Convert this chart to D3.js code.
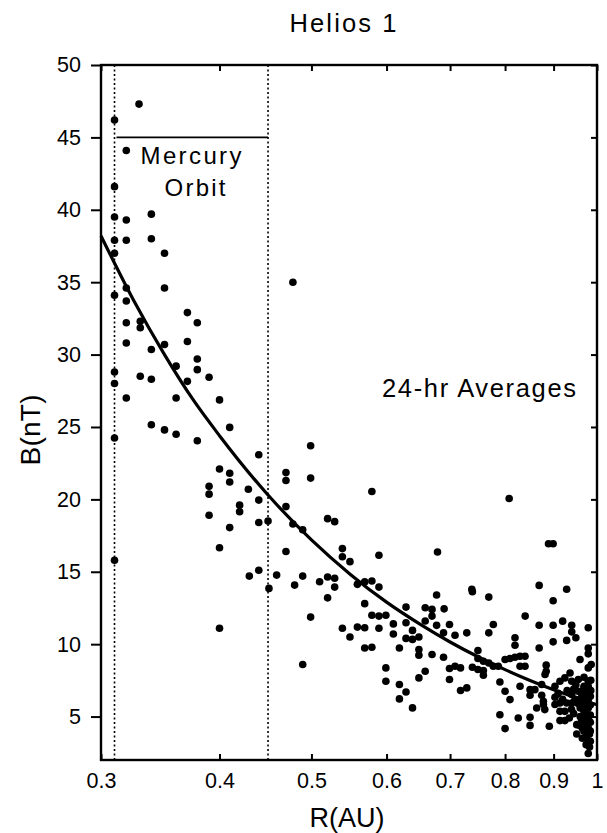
<!DOCTYPE html>
<html>
<head>
<meta charset="utf-8">
<script src="https://cdn.jsdelivr.net/npm/d3@7"></script>
<style>
  html, body { margin: 0; padding: 0; background: #fff; }
  svg text { font-family: "Liberation Sans", Arial, Helvetica, sans-serif; fill: #000; }
</style>
</head>
<body>
<svg id="chart" width="607" height="833"></svg>
<script>
// ---------- data ----------
const titleText = "Helios 1";
const xLabel = "R(AU)";
const yLabel = "B(nT)";
const xTickValues = [0.3, 0.4, 0.5, 0.6, 0.7, 0.8, 0.9, 1];
const xTickLabels = ["0.3", "0.4", "0.5", "0.6", "0.7", "0.8", "0.9", "1"];
const yTickValues = [5, 10, 15, 20, 25, 30, 35, 40, 45, 50];
const xDomain = [0.3, 1];
const yDomain = [2, 50];

// Mercury orbit range (AU) and marker level (nT)
const mercuryRange = [0.31, 0.45];
const mercuryLevel = 45;

// 24-hr averages: radial distance R (AU)
const rAU = [
  0.310,0.329,0.319,0.310,0.310,0.319,0.339,0.310,0.319,0.339,0.310,0.350,0.350,
  0.478,0.310,0.319,0.319,0.330,0.330,0.319,0.319,0.339,0.350,0.370,0.379,0.370,0.379,0.379,0.310,0.310,0.330,0.339,0.319,0.360,0.370,0.360,0.390,0.400,0.310,0.339,0.350,0.360,0.379,0.410,0.440,0.400,0.410,0.410,0.390,0.390,0.390,0.420,0.420,0.410,0.400,0.429,0.440,0.440,0.450,0.470,0.470,0.470,0.478,0.470,0.310,0.440,
  0.499,0.499,0.579,0.808,0.4895,0.520,0.529,0.539,0.539,0.549,0.589,0.679,0.889,0.899,0.4595,0.480,0.4895,0.510,0.520,0.529,0.529,0.559,0.569,0.579,0.589,0.738,0.869,0.929,
  0.400,0.430,0.451,0.520,0.499,0.4895,
  0.569,0.579,0.589,0.599,0.539,0.549,0.559,0.569,0.589,0.569,0.579,0.610,0.610,0.599,0.599,0.619,0.619,0.629,0.619,0.639,0.629,0.629,0.639,0.629,0.639,0.649,0.649,0.649,0.670,0.659,0.649,0.659,0.670,0.670,0.659,0.6775,0.6775,
  0.690,0.699,0.689,0.7085,0.729,0.739,0.769,0.899,0.840,0.7775,0.769,0.8195,0.8195,0.869,0.899,0.920,0.9405,0.9405,0.929,0.950,0.899,0.869,0.979,0.979,0.979,0.9596,0.979,
  0.689,0.699,0.7085,0.718,0.699,0.729,0.718,0.739,0.749,0.749,0.759,0.769,0.759,0.749,0.759,0.7775,0.787,0.800,0.8096,0.8195,0.8296,0.8397,0.8296,0.8397,
  0.790,0.800,0.8096,0.8296,0.850,0.850,0.860,0.8744,0.8815,0.884,0.884,0.8744,0.878,0.8638,0.850,0.850,0.826,0.790,0.800,0.8907,
  0.903,0.903,0.914,0.914,0.914,0.925,0.925,0.929,0.9405,0.9405,0.952,0.952,0.903,0.914,0.925,0.9366,0.9405,0.9556,0.969,0.969,0.9556,0.979,
  0.979,0.974,0.974,0.969,0.979,0.969,0.979,0.969,0.979,0.969,0.979,0.969,0.979,0.969,0.979,
  0.878,0.881,0.965,0.984,0.984,0.984,0.984,0.984,0.984,0.974,0.974,0.974,0.960,0.960,0.960,0.945,0.945,0.935,0.955,0.920,0.930,0.910,0.950,0.965,0.958,
  0.976,0.976,0.976,0.982,0.982,0.971,0.971,0.963,0.963,0.948,0.940,0.985,0.985,0.986
];
// 24-hr averages: field magnitude B (nT)
const bnT = [
  46.2,47.3,44.1,41.6,39.5,39.3,39.7,37.9,37.9,38.0,37.0,37.0,34.6,
  35.0,34.1,34.6,33.7,32.3,31.85,32.2,30.8,30.35,30.7,32.9,32.2,30.9,29.7,28.96,28.8,28.0,28.5,28.3,27.0,29.2,28.15,27.0,28.43,26.87,24.24,25.15,24.8,24.5,24.05,24.97,23.08,22.1,21.8,21.2,20.9,20.36,18.9,19.6,19.15,18.05,16.66,20.7,19.95,18.4,18.5,21.85,21.3,19.5,18.3,16.4,15.8,15.1,
  23.7,21.47,20.54,20.06,17.9,18.67,18.46,16.6,16.04,15.7,16.14,16.37,16.94,16.94,14.77,14.08,14.7,14.31,14.64,14.55,13.94,14.13,14.3,14.36,13.94,13.79,14.06,13.79,
  11.1,14.7,13.85,13.2,11.87,8.6,
  12.8,12.0,11.94,12.0,11.1,10.5,11.18,11.13,11.1,9.74,9.79,11.4,10.7,8.36,7.44,9.74,7.21,6.7,6.22,5.6,12.56,11.48,10.95,10.4,10.33,10.49,9.63,9.24,9.29,8.13,7.67,12.51,12.4,11.94,11.6,13.4,11.3,
  12.44,11.36,10.78,10.62,10.78,13.62,13.25,13.0,11.94,11.36,10.78,10.44,9.93,11.31,11.31,11.59,11.31,10.85,10.26,10.44,10.16,9.74,11.13,9.74,9.33,8.94,8.36,
  9.10,8.32,8.48,8.36,7.56,6.98,6.8,8.41,9.56,9.01,8.82,8.7,8.18,8.25,7.85,8.48,8.48,8.94,9.01,9.10,9.17,9.17,8.48,8.48,
  7.39,6.75,6.17,7.09,6.86,6.47,6.86,7.21,7.9,8.55,8.13,6.47,5.83,5.59,4.95,4.39,4.9,5.13,4.17,4.33,
  5.83,6.33,5.94,5.36,4.72,5.36,4.72,5.94,6.52,5.94,4.44,3.8,7.09,7.44,7.67,8.01,7.44,7.56,7.72,7.09,6.75,7.44,
  2.45,3.06,3.52,3.98,4.21,4.67,4.9,5.36,5.59,5.83,6.17,6.4,6.75,6.98,7.09,
  6.06,5.48,4.2,3.3,4.0,4.6,5.1,5.8,6.4,5.1,6.0,6.6,5.0,5.6,6.2,6.9,5.2,4.9,5.9,6.2,6.8,6.6,7.2,3.5,4.4,
  3.7,4.5,5.5,2.9,3.8,4.4,5.7,4.8,6.6,6.2,5.5,6.8,7.5,8.6
];

// Power-law fit curve
const fitR = [0.3, 0.325, 0.35, 0.375, 0.4, 0.45, 0.5, 0.55, 0.6, 0.65, 0.7, 0.75, 0.8, 0.85, 0.9, 0.95, 1.0];
const fitB = [38.2, 33.7, 30.0, 26.9, 24.4, 20.3, 17.2, 14.8, 12.9, 11.4, 10.15, 9.11, 8.24, 7.49, 6.85, 6.30, 5.81];

// ---------- drawing ----------
const svg = d3.select("#chart");
const plot = { left: 101, right: 597, top: 65, bottom: 760 };

const x = d3.scaleLog().domain(xDomain).range([plot.left, plot.right]);
const y = d3.scaleLinear().domain(yDomain).range([plot.bottom, plot.top]);

const FONT = "Liberation Sans, Arial, sans-serif";

// title
svg.append("text")
  .attr("x", 343).attr("y", 32)
  .attr("text-anchor", "middle")
  .attr("font-size", 25.5)
  .attr("textLength", 107).attr("lengthAdjust", "spacing")
  .text(titleText);

// left axis (ticks outward, labelled)
const gL = svg.append("g").attr("transform", `translate(${plot.left},0)`)
  .call(d3.axisLeft(y).tickValues(yTickValues).tickSize(10).tickPadding(10).tickFormat(d3.format("d")));
gL.select(".domain").remove();
gL.selectAll("line").attr("stroke", "#000").attr("stroke-width", 2);
gL.selectAll("text").attr("font-size", 21.5).attr("font-family", FONT);

// right axis (ticks inward)
const gR = svg.append("g").attr("transform", `translate(${plot.right},0)`)
  .call(d3.axisRight(y).tickValues(yTickValues).tickSize(-6).tickFormat(""));
gR.select(".domain").remove();
gR.selectAll("line").attr("stroke", "#000").attr("stroke-width", 2);

// bottom axis (ticks inward, labelled)
const gB = svg.append("g").attr("transform", `translate(0,${plot.bottom})`)
  .call(d3.axisBottom(x).tickValues(xTickValues).tickSize(-6).tickPadding(13)
    .tickFormat((d, i) => xTickLabels[i]));
gB.select(".domain").remove();
gB.selectAll("line").attr("stroke", "#000").attr("stroke-width", 2);
gB.selectAll("text").attr("font-size", 21.5).attr("font-family", FONT);

// top axis (ticks inward)
const gT = svg.append("g").attr("transform", `translate(0,${plot.top})`)
  .call(d3.axisTop(x).tickValues(xTickValues).tickSize(-6).tickFormat(""));
gT.select(".domain").remove();
gT.selectAll("line").attr("stroke", "#000").attr("stroke-width", 2);

// frame
svg.append("rect")
  .attr("x", plot.left).attr("y", plot.top)
  .attr("width", plot.right - plot.left).attr("height", plot.bottom - plot.top)
  .attr("fill", "none").attr("stroke", "#000").attr("stroke-width", 2.4);

// Mercury orbit dotted lines
svg.selectAll("line.merc").data(mercuryRange).enter().append("line")
  .attr("class", "merc")
  .attr("x1", d => x(d)).attr("x2", d => x(d))
  .attr("y1", plot.top).attr("y2", plot.bottom)
  .attr("stroke", "#000").attr("stroke-width", 1.6).attr("stroke-dasharray", "2,2.5");

// Mercury level line
svg.append("line")
  .attr("x1", x(mercuryRange[0]) + 2).attr("x2", x(mercuryRange[1]))
  .attr("y1", y(mercuryLevel)).attr("y2", y(mercuryLevel))
  .attr("stroke", "#000").attr("stroke-width", 1.6);

svg.append("text").attr("x", 191).attr("y", 164).attr("text-anchor", "middle")
  .attr("font-size", 24).attr("textLength", 101).attr("lengthAdjust", "spacing").text("Mercury");
svg.append("text").attr("x", 195).attr("y", 196).attr("text-anchor", "middle")
  .attr("font-size", 24).attr("textLength", 61).attr("lengthAdjust", "spacing").text("Orbit");

svg.append("text").attr("x", 382).attr("y", 397)
  .attr("font-size", 25.5).attr("textLength", 194).attr("lengthAdjust", "spacing").text("24-hr Averages");

// points
const pts = rAU.map((r, i) => ({ r, b: bnT[i] }));
svg.append("g").selectAll("circle").data(pts).enter().append("circle")
  .attr("cx", d => x(d.r)).attr("cy", d => y(d.b)).attr("r", 3.8).attr("fill", "#000");

// fit curve
const fit = fitR.map((r, i) => ({ r, b: fitB[i] }));
svg.append("path").datum(fit)
  .attr("d", d3.line().x(d => x(d.r)).y(d => y(d.b)).curve(d3.curveMonotoneX))
  .attr("fill", "none").attr("stroke", "#000").attr("stroke-width", 3.2);

// axis titles
svg.append("text").attr("x", 347).attr("y", 827).attr("text-anchor", "middle")
  .attr("font-size", 27).attr("textLength", 75).attr("lengthAdjust", "spacing").text(xLabel);
svg.append("text").attr("transform", "translate(40,430) rotate(-90)").attr("text-anchor", "middle")
  .attr("font-size", 28).attr("textLength", 71).attr("lengthAdjust", "spacing").text(yLabel);
</script>
</body>
</html>
